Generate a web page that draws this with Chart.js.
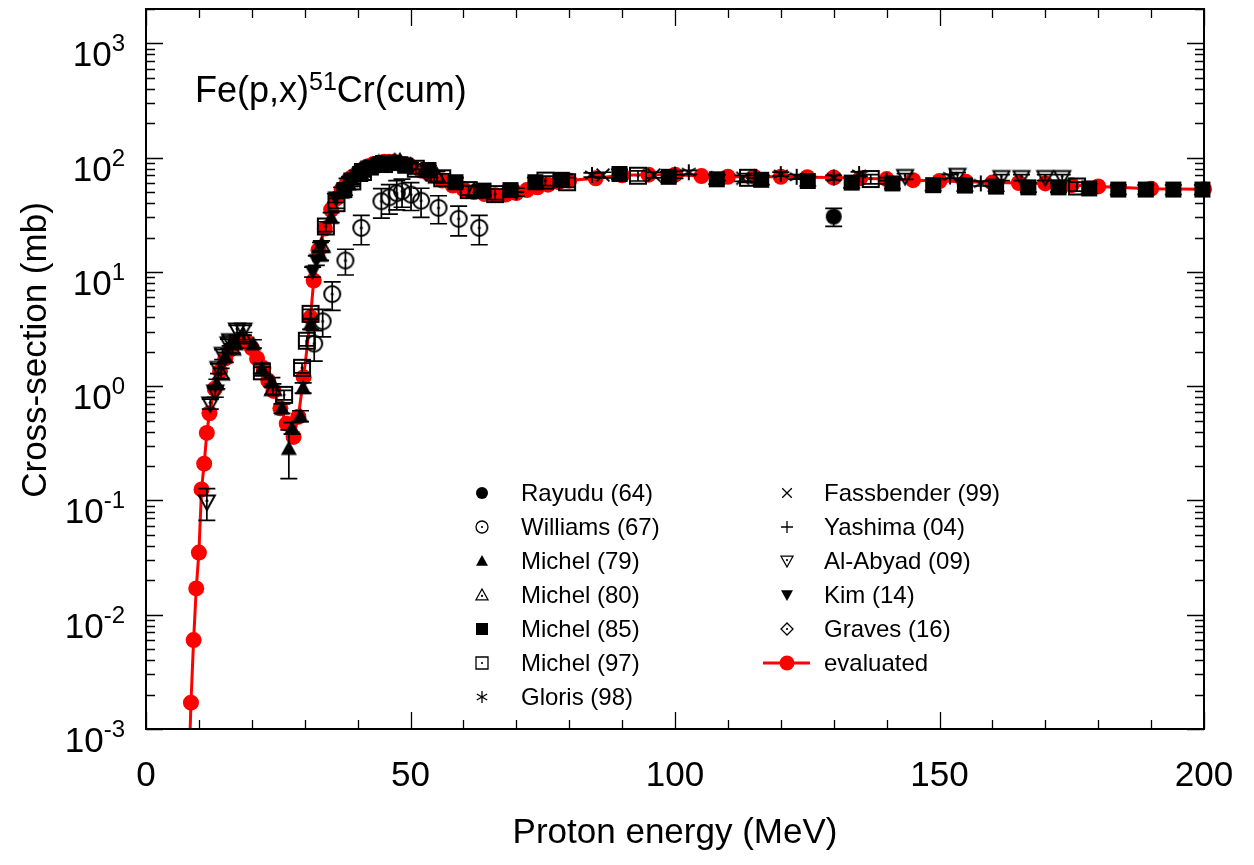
<!DOCTYPE html>
<html>
<head>
<meta charset="utf-8">
<script src="https://cdn.jsdelivr.net/npm/chart.js@4.4.1/dist/chart.umd.min.js"></script>
<style>
  html, body { margin: 0; padding: 0; background: #fff; }
  #wrap { width: 1254px; height: 865px; }
</style>
</head>
<body>
<div id="wrap"><canvas id="xsChart" width="1254" height="865"></canvas></div>
<script>
// data: [energy MeV, cross-section mb, error mb]
const rayudu64 = [[130, 30.5, 5.5]];
const williams67 = [
  [31.8, 2.36, 0.7], [33.4, 3.7, 1.0], [35.2, 6.4, 1.8], [37.7, 12.6, 3.2], [40.7, 24.3, 7],
  [44.5, 41.6, 12], [46.0, 45, 13], [47.4, 48.9, 14], [48.4, 50.8, 14], [50.1, 47.5, 13],
  [52.0, 42, 12], [55.3, 36.4, 10], [59.1, 29.2, 8.5], [63.0, 24.3, 7]
];
const michel79 = [
  [13.4, 1.05, 0.1], [15, 1.8, 0.18], [17, 2.35, 0.2], [20.3, 2.35, 0.2], [21.9, 1.43, 0.14],
  [23.8, 1.09, 0.1], [25.7, 0.64, 0.06], [27.0, 0.285, 0.13], [27.6, 0.43, 0.05], [29.2, 0.55, 0.06],
  [29.7, 0.97, 0.1], [31.1, 3.5, 0.35], [33, 14, 1.4], [35, 30, 3], [37, 50, 5], [39, 65, 6],
  [41, 78, 7], [43, 86, 8], [45, 90, 9]
];
const michel80 = [
  [14.2, 1.3, 0.13], [16.3, 2.15, 0.2], [18.5, 2.7, 0.25], [24, 0.95, 0.1], [33.2, 17, 1.7],
  [38, 60, 6], [44, 89, 9], [48, 92, 9], [55, 69, 7], [62, 51, 5]
];
const michel85 = [
  [37.5, 52, 5], [40.5, 72, 7], [42.5, 82, 8], [44.5, 88, 9], [46.5, 90, 9], [49, 85, 8],
  [53.4, 78, 7], [58.5, 61, 6], [63.8, 51.5, 5], [68.9, 52, 5], [73.6, 61, 6], [78.6, 64, 6],
  [89.5, 72, 7], [98.8, 68, 7], [107.9, 64.7, 6], [116.3, 64, 6], [125.1, 62.5, 6], [133.4, 60.5, 6],
  [141.1, 59.5, 6], [148.8, 57.5, 6], [154.8, 57, 6], [160.7, 55.8, 5], [166.8, 55, 5], [172.5, 55, 5],
  [178.3, 53.8, 5], [183.8, 52.6, 5], [189, 52.6, 5], [194.2, 52.6, 5], [199.7, 52.6, 5]
];
const michel97 = [
  [21.9, 1.35, 0.12], [26.1, 0.84, 0.08], [29.5, 1.45, 0.14], [30.4, 2.5, 0.25], [31.1, 4.3, 0.4],
  [34, 25, 2.5], [36, 40, 4], [39, 62, 6], [41, 75, 7], [45, 88, 8], [51, 80, 8], [56, 66, 6],
  [61, 52, 5], [66, 48, 5], [75.5, 63, 6], [79.6, 61, 6], [93, 69.5, 7], [113.8, 66.7, 6],
  [137, 65, 6], [176, 56, 5]
];
const gloris98 = [
  [84.3, 70.5, 3], [102.6, 74.5, 3], [120, 71.8, 3], [123, 68, 3], [130, 67, 3],
  [134.8, 72, 3], [152, 68.5, 3], [157.8, 59.5, 3]
];
const fassbender99 = [[86.4, 70.5, 4], [96, 70.5, 4], [108, 67, 4], [112.8, 66, 4]];
const yashima04 = [[70, 50, 4], [100, 71, 5], [115, 66, 4], [140, 63, 4]];
const alabyad09 = [
  [11.5, 0.097, 0.03], [12.15, 0.7, 0.07], [13.1, 0.89, 0.09], [13.7, 1.43, 0.14], [14.5, 1.9, 0.19],
  [15.6, 2.35, 0.23], [15.9, 2.5, 0.25], [17.2, 3.1, 0.3], [18.4, 3.1, 0.3],
  [143.5, 68.5, 4], [153.4, 70, 4], [161.7, 67, 4], [165.5, 67, 4], [170, 67, 4], [173.2, 67, 4]
];
const kim14 = [[31.5, 10, 1], [32.2, 12.6, 1.2], [33, 16.5, 1.6], [35.8, 44.5, 4], [38.5, 62, 6], [42, 83, 8]];
const graves16 = [[40, 72, 5], [43, 86, 6], [47, 92, 6], [50, 85, 6], [53, 74, 5]];

// evaluated curve: [energy MeV, cross-section mb]
const evaluated = [
  [8.0, 0.0003], [8.5, 0.0017], [9, 0.006], [9.5, 0.017], [10, 0.035], [10.5, 0.125], [11, 0.21],
  [11.5, 0.39], [12, 0.58], [13, 0.95], [14, 1.35], [15, 1.75], [16, 2.1], [17, 2.4], [18, 2.55],
  [19, 2.45], [20, 2.15], [21, 1.75], [22.2, 1.44], [23.1, 1.12], [24.1, 0.91], [25.4, 0.64],
  [26.6, 0.47], [27.9, 0.36], [28.8, 0.54], [29.8, 1.2], [31.1, 4.0], [31.7, 8.4], [32.6, 15.5],
  [33.8, 24], [35, 35], [36, 44], [37, 53], [38, 61], [39, 68], [40, 74], [41, 79], [42, 84],
  [43, 88], [44, 90], [45, 92], [46, 92], [47, 91], [48, 89], [49, 87], [50, 84], [52, 77],
  [54, 70], [56, 63], [58, 57], [60, 53], [62, 50], [64, 48], [66, 47], [68, 47.5], [70, 49],
  [72, 52], [74, 55], [76, 58], [78, 61], [80, 63], [85, 66], [90, 70], [95, 71], [100, 71],
  [105, 69], [110, 68], [115, 68], [120, 68], [125, 67.5], [130, 67], [135, 66], [140, 65],
  [145, 63.5], [150, 62.5], [155, 61.5], [160, 60.5], [165, 60], [170, 59.5], [175, 57.5],
  [180, 56], [190, 53.5], [200, 53]
];

const xTicksMajor = [0, 50, 100, 150, 200];
const yDecades = [-3, -2, -1, 0, 1, 2, 3];

const FONT = '"Liberation Sans", Arial, sans-serif';

// marker pictures used as pointStyle
function makeMarker(kind, filled, size) {
  var pad = 3;
  var c = document.createElement('canvas');
  c.width = c.height = size + pad * 2;
  var g = c.getContext('2d');
  var m = c.width / 2, h = size / 2;
  g.strokeStyle = '#000';
  g.fillStyle = '#000';
  g.lineWidth = size > 13 ? 2 : 1.3;
  g.beginPath();
  switch (kind) {
    case 'circle':
      g.arc(m, m, h, 0, 2 * Math.PI);
      break;
    case 'triangle':
      g.moveTo(m, m - h); g.lineTo(m + h, m + h * 0.8); g.lineTo(m - h, m + h * 0.8); g.closePath();
      break;
    case 'dtriangle':
      g.moveTo(m, m + h); g.lineTo(m + h, m - h * 0.8); g.lineTo(m - h, m - h * 0.8); g.closePath();
      break;
    case 'square':
      g.rect(m - h, m - h, size, size);
      break;
    case 'diamond':
      g.moveTo(m, m - h); g.lineTo(m + h, m); g.lineTo(m, m + h); g.lineTo(m - h, m); g.closePath();
      break;
    case 'star':
      for (var k = 0; k < 3; k++) {
        var a = Math.PI / 2 + k * Math.PI / 3;
        g.moveTo(m + h * Math.cos(a), m - h * Math.sin(a));
        g.lineTo(m - h * Math.cos(a), m + h * Math.sin(a));
      }
      break;
    case 'x':
      g.moveTo(m - h * 0.8, m - h * 0.8); g.lineTo(m + h * 0.8, m + h * 0.8);
      g.moveTo(m + h * 0.8, m - h * 0.8); g.lineTo(m - h * 0.8, m + h * 0.8);
      break;
    case 'plus':
      g.moveTo(m - h, m); g.lineTo(m + h, m);
      g.moveTo(m, m - h); g.lineTo(m, m + h);
      break;
  }
  if (filled) {
    g.fill();
  } else {
    g.stroke();
    if (kind !== 'star' && kind !== 'x' && kind !== 'plus') {
      g.beginPath();
      g.arc(m, kind === 'triangle' ? m + h * 0.15 : (kind === 'dtriangle' ? m - h * 0.15 : m), size > 13 ? 1.5 : 1.1, 0, 2 * Math.PI);
      g.fill();
    }
  }
  return c;
}

const seriesLabels = ['Rayudu (64)', 'Williams (67)', 'Michel (79)', 'Michel (80)', 'Michel (85)', 'Michel (97)',
  'Gloris (98)', 'Fassbender (99)', 'Yashima (04)', 'Al-Abyad (09)', 'Kim (14)', 'Graves (16)'];
const seriesData = [rayudu64, williams67, michel79, michel80, michel85, michel97,
  gloris98, fassbender99, yashima04, alabyad09, kim14, graves16];
const seriesMarks = [['circle', true], ['circle', false], ['triangle', true], ['triangle', false],
  ['square', true], ['square', false], ['star', false], ['x', false], ['plus', false],
  ['dtriangle', false], ['dtriangle', true], ['diamond', false]];

var datasets = seriesData.map(function (rows, i) {
  return {
    label: seriesLabels[i],
    data: rows.map(function (r) { return { x: r[0], y: r[1] }; }),
    errs: rows.map(function (r) { return r[2]; }),
    pointStyle: makeMarker(seriesMarks[i][0], seriesMarks[i][1], 16),
    legendMark: makeMarker(seriesMarks[i][0], seriesMarks[i][1], 12),
    pointRadius: 8,
    showLine: false,
    clip: 12
  };
});
datasets.push({
  label: 'evaluated',
  data: evaluated.map(function (r) { return { x: r[0], y: r[1] }; }),
  showLine: true,
  borderColor: '#ff0000',
  borderWidth: 3,
  backgroundColor: '#ff0000',
  pointBackgroundColor: '#ff0000',
  pointBorderColor: '#ff0000',
  pointRadius: 8,
  pointBorderWidth: 0,
  tension: 0,
  clip: { left: 12, right: 12, top: 12, bottom: 0 }
});

function drawPow(ctx, exp, xRight, yTick) {
  ctx.font = '35px ' + FONT;
  var wBase = ctx.measureText('10').width;
  ctx.font = '24px ' + FONT;
  var wExp = ctx.measureText(exp).width;
  ctx.textAlign = 'left';
  ctx.textBaseline = 'alphabetic';
  ctx.font = '35px ' + FONT;
  ctx.fillText('10', xRight - wExp - wBase, yTick + 23);
  ctx.font = '24px ' + FONT;
  ctx.fillText(exp, xRight - wExp, yTick + 8);
}

const axesPlugin = {
  id: 'axesPlugin',
  beforeDatasetDraw: function (chart, args) {
    var ds = chart.data.datasets[args.index];
    if (!ds.errs) return;
    var ctx = chart.ctx, a = chart.chartArea, xs = chart.scales.x, ys = chart.scales.y;
    ctx.save();
    ctx.beginPath();
    ctx.rect(a.left, a.top, a.right - a.left, a.bottom - a.top);
    ctx.clip();
    ctx.strokeStyle = '#000';
    ctx.lineWidth = 1.7;
    ds.data.forEach(function (p, i) {
      var e = ds.errs[i];
      if (!e) return;
      var px = xs.getPixelForValue(p.x);
      var y1 = ys.getPixelForValue(Math.max(p.y - e, 1e-5));
      var y2 = ys.getPixelForValue(p.y + e);
      ctx.beginPath();
      ctx.moveTo(px, y1); ctx.lineTo(px, y2);
      ctx.moveTo(px - 8.5, y1); ctx.lineTo(px + 8.5, y1);
      ctx.moveTo(px - 8.5, y2); ctx.lineTo(px + 8.5, y2);
      ctx.stroke();
    });
    ctx.restore();
  },
  afterDraw: function (chart) {
    var ctx = chart.ctx, a = chart.chartArea, xs = chart.scales.x, ys = chart.scales.y;
    ctx.save();
    ctx.strokeStyle = '#000';
    ctx.fillStyle = '#000';

    // ticks
    ctx.lineWidth = 1.3;
    ctx.beginPath();
    for (var v = 0; v <= 200; v += 10) {
      var px = Math.round(xs.getPixelForValue(v)) + 0.5;
      var len = (v % 50 === 0) ? 17 : 9;
      ctx.moveTo(px, a.bottom); ctx.lineTo(px, a.bottom - len);
      ctx.moveTo(px, a.top); ctx.lineTo(px, a.top + len);
    }
    yDecades.forEach(function (d) {
      for (var k = 1; k <= 9; k++) {
        var val = k * Math.pow(10, d);
        if (val > 2000) break;
        var py = Math.round(ys.getPixelForValue(val)) + 0.5;
        var l = k === 1 ? 17 : 9;
        ctx.moveTo(a.left, py); ctx.lineTo(a.left + l, py);
        ctx.moveTo(a.right, py); ctx.lineTo(a.right - l, py);
      }
    });
    ctx.stroke();

    // frame
    ctx.lineWidth = 2;
    ctx.strokeRect(a.left, a.top, a.right - a.left, a.bottom - a.top);

    // tick labels
    ctx.font = '35px ' + FONT;
    ctx.textAlign = 'center';
    ctx.textBaseline = 'alphabetic';
    xTicksMajor.forEach(function (v) {
      ctx.fillText(String(v), xs.getPixelForValue(v), 786);
    });
    yDecades.forEach(function (d) {
      drawPow(ctx, String(d), a.left - 21, ys.getPixelForValue(Math.pow(10, d)));
    });

    // axis titles
    ctx.font = '35px ' + FONT;
    ctx.textAlign = 'center';
    ctx.fillText('Proton energy (MeV)', (a.left + a.right) / 2, 843);
    ctx.save();
    ctx.translate(46, 350);
    ctx.rotate(-Math.PI / 2);
    ctx.fillText('Cross-section (mb)', 0, 0);
    ctx.restore();

    // reaction label
    ctx.textAlign = 'left';
    ctx.font = '36px ' + FONT;
    var tx = 195;
    ctx.fillText('Fe(p,x)', tx, 102);
    tx += ctx.measureText('Fe(p,x)').width;
    ctx.font = '25px ' + FONT;
    ctx.fillText('51', tx, 90);
    tx += ctx.measureText('51').width;
    ctx.font = '36px ' + FONT;
    ctx.fillText('Cr(cum)', tx, 102);

    // legend
    ctx.font = '24px ' + FONT;
    ctx.textBaseline = 'middle';
    var sets = chart.data.datasets;
    for (var i = 0; i < sets.length; i++) {
      var col = i < 7 ? 0 : 1;
      var row = i < 7 ? i : i - 7;
      var mx = col === 0 ? 482 : 787;
      var tx2 = col === 0 ? 521 : 824;
      var my = 493 + row * 34;
      if (sets[i].legendMark) {
        var mk = sets[i].legendMark;
        ctx.drawImage(mk, mx - mk.width / 2, my - mk.height / 2);
      } else {
        ctx.strokeStyle = '#ff0000';
        ctx.fillStyle = '#ff0000';
        ctx.lineWidth = 3;
        ctx.beginPath();
        ctx.moveTo(763, my); ctx.lineTo(810, my);
        ctx.stroke();
        ctx.beginPath();
        ctx.arc(mx, my, 7.5, 0, 2 * Math.PI);
        ctx.fill();
        ctx.fillStyle = '#000';
      }
      ctx.fillText(sets[i].label, tx2, my + 1);
    }
    ctx.restore();
  }
};

var xsChart = new Chart(document.getElementById('xsChart'), {
  type: 'scatter',
  data: { datasets: datasets },
  options: {
    responsive: false,
    devicePixelRatio: 1,
    animation: false,
    layout: { padding: { left: 146, top: 9, right: 50, bottom: 136 } },
    plugins: { legend: { display: false }, tooltip: { enabled: false } },
    scales: {
      x: { type: 'linear', min: 0, max: 200, display: false },
      y: { type: 'logarithmic', min: 0.001, max: 2000, display: false }
    }
  },
  plugins: [axesPlugin]
});
</script>
</body>
</html>
